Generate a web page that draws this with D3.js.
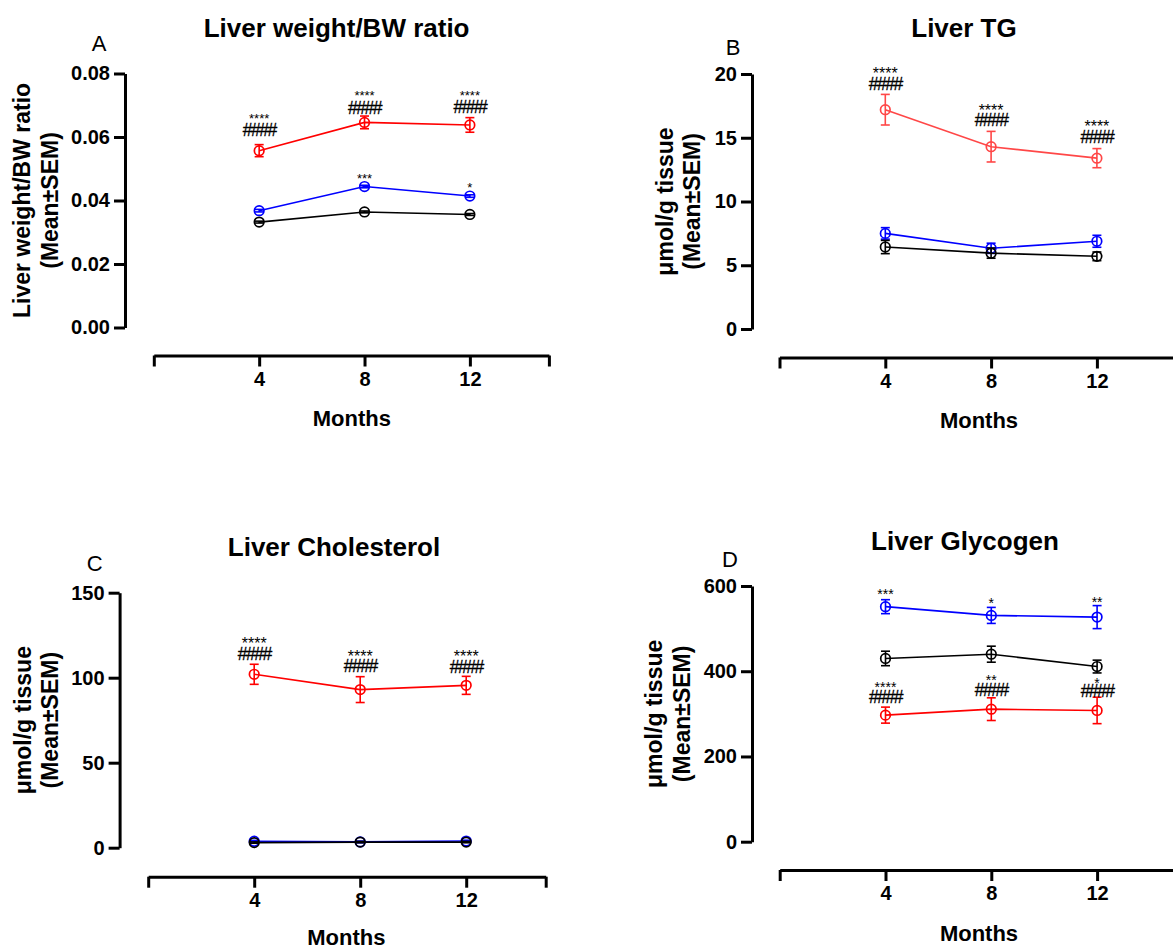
<!DOCTYPE html>
<html><head><meta charset="utf-8">
<script src="https://cdn.jsdelivr.net/npm/d3@7"></script>
<style>
body{margin:0;background:#fff}
svg{display:block}
text{font-family:"Liberation Sans",Arial,sans-serif}
</style>
</head><body>
<svg id="c" width="1173" height="949"></svg>
<script>
// ---------- shared ----------
const months = [4, 8, 12];
const xTickLabels = ["4", "8", "12"];
const xLabel = "Months";
const seriesNames = ["HFD", "Exercise", "Control"];

// ---------- Panel A ----------
const aTitle = "Liver weight/BW ratio";
const aYLabel = ["Liver weight/BW ratio", "(Mean±SEM)"];
const aYTicks = [0, 0.02, 0.04, 0.06, 0.08];
const aRedMean = [0.0557, 0.0646, 0.0638];
const aRedSem = [0.0019, 0.0020, 0.0023];
const aBlueMean = [0.0368, 0.0444, 0.0414];
const aBlueSem = [0.0004, 0.0004, 0.0004];
const aBlackMean = [0.0332, 0.0364, 0.0356];
const aBlackSem = [0.0003, 0.0003, 0.0003];
const aAnnMonth = [4, 4, 8, 8, 12, 12, 8, 12];
const aAnnY = [0.0668, 0.0624, 0.0740, 0.0693, 0.0740, 0.0696, 0.0479, 0.0450];
const aAnnText = ["****", "####", "****", "####", "****", "####", "***", "*"];

// ---------- Panel B ----------
const bTitle = "Liver TG";
const bYLabel = ["μmol/g tissue", "(Mean±SEM)"];
const bYTicks = [0, 5, 10, 15, 20];
const bRedMean = [17.2, 14.3, 13.4];
const bRedSem = [1.2, 1.2, 0.75];
const bBlueMean = [7.5, 6.33, 6.88];
const bBlueSem = [0.45, 0.4, 0.47];
const bBlackMean = [6.43, 5.95, 5.7];
const bBlackSem = [0.52, 0.4, 0.34];
const bAnnMonth = [4, 4, 8, 8, 12, 12];
const bAnnY = [20.37, 19.27, 17.44, 16.39, 16.18, 15.08];
const bAnnText = ["****", "####", "****", "####", "****", "####"];

// ---------- Panel C ----------
const cTitle = "Liver Cholesterol";
const cYLabel = ["μmol/g tissue", "(Mean±SEM)"];
const cYTicks = [0, 50, 100, 150];
const cRedMean = [102, 93, 95.5];
const cRedSem = [5.9, 7.6, 5.3];
const cBlueMean = [3.8, 3.4, 3.9];
const cBlueSem = [0.5, 0.5, 0.5];
const cBlackMean = [3.0, 3.3, 3.3];
const cBlackSem = [0.4, 0.4, 0.4];
const cAnnMonth = [4, 4, 8, 8, 12, 12];
const cAnnY = [122.2, 113.9, 114.7, 106.9, 114.7, 106.5];
const cAnnText = ["****", "####", "****", "####", "****", "####"];

// ---------- Panel D ----------
const dTitle = "Liver Glycogen";
const dYLabel = ["μmol/g tissue", "(Mean±SEM)"];
const dYTicks = [0, 200, 400, 600];
const dRedMean = [297, 311, 308];
const dRedSem = [18.8, 26.6, 31];
const dBlueMean = [551.5, 531, 527];
const dBlueSem = [16.4, 18.8, 27];
const dBlackMean = [430, 440, 411];
const dBlackSem = [17, 18.8, 15];
const dAnnMonth = [4, 8, 12, 4, 4, 8, 8, 12, 12];
const dAnnY = [589, 567, 569.5, 370, 340, 387, 356, 379, 353.6];
const dAnnText = ["***", "*", "**", "****", "####", "**", "####", "*", "####"];

// ---------- layout ----------
const panels = [
  {letter:"A", title:aTitle, ylab:aYLabel, ticks:aYTicks, fmt:d3.format(".2f"), yMax:0.08,
   red:[aRedMean,aRedSem], blue:[aBlueMean,aBlueSem], black:[aBlackMean,aBlackSem],
   ann:[aAnnMonth,aAnnY,aAnnText], redColor:"#ff0000", starSize:13,
   yAxisX:125, yTop:73.5, yBot:327.5, xAxisY:355.5, x0:153.8, ppm:26.34,
   letterPos:[99,43], titlePos:[336.6,28], ylabX:[22,50], monthsPos:[351.8,418]},
  {letter:"B", title:bTitle, ylab:bYLabel, ticks:bYTicks, fmt:d3.format("d"), yMax:20,
   red:[bRedMean,bRedSem], blue:[bBlueMean,bBlueSem], black:[bBlackMean,bBlackSem],
   ann:[bAnnMonth,bAnnY,bAnnText], redColor:"#ff4747", starSize:16,
   yAxisX:752, yTop:74, yBot:329, xAxisY:357.5, x0:779.5, ppm:26.45,
   letterPos:[733,47], titlePos:[964,28], ylabX:[665,692], monthsPos:[979,420]},
  {letter:"C", title:cTitle, ylab:cYLabel, ticks:cYTicks, fmt:d3.format("d"), yMax:150,
   red:[cRedMean,cRedSem], blue:[cBlueMean,cBlueSem], black:[cBlackMean,cBlackSem],
   ann:[cAnnMonth,cAnnY,cAnnText], redColor:"#ff0000", starSize:16,
   yAxisX:119.6, yTop:592.7, yBot:847.7, xAxisY:876.7, x0:148.2, ppm:26.5,
   letterPos:[94.6,563], titlePos:[334,546.7], ylabX:[23.2,50], monthsPos:[346.4,937]},
  {letter:"D", title:dTitle, ylab:dYLabel, ticks:dYTicks, fmt:d3.format("d"), yMax:600,
   red:[dRedMean,dRedSem], blue:[dBlueMean,dBlueSem], black:[dBlackMean,dBlackSem],
   ann:[dAnnMonth,dAnnY,dAnnText], redColor:"#ff0000", starSize:14,
   yAxisX:752, yTop:586, yBot:841.7, xAxisY:870, x0:779.7, ppm:26.45,
   letterPos:[730,559.3], titlePos:[965,540.7], ylabX:[653.8,682], monthsPos:[979,933]}
];

const svg = d3.select("#c");
const FONT = '"Liberation Sans",Arial,sans-serif';

panels.forEach(p => {
  const g = svg.append("g");
  const x = d3.scaleLinear().domain([0, 15]).range([p.x0, p.x0 + 15 * p.ppm]);
  const y = d3.scaleLinear().domain([0, p.yMax]).range([p.yBot, p.yTop]);

  // y axis
  const yAx = g.append("g").attr("transform", `translate(${p.yAxisX},0)`)
    .call(d3.axisLeft(y).tickValues(p.ticks).tickFormat(p.fmt).tickSize(11).tickPadding(4).tickSizeOuter(0));
  yAx.select(".domain").attr("stroke", "#000").attr("stroke-width", 3);
  yAx.selectAll(".tick line").attr("stroke", "#000").attr("stroke-width", 3);
  yAx.selectAll(".tick text").attr("fill", "#000").attr("font-size", 20).attr("font-weight", "bold")
    .attr("font-family", FONT);

  // x axis (detached)
  const xAx = g.append("g").attr("transform", `translate(0,${p.xAxisY})`)
    .call(d3.axisBottom(x).tickValues([0, 4, 8, 12, 15])
      .tickFormat(d => { const i = months.indexOf(d); return i >= 0 ? xTickLabels[i] : ""; })
      .tickSize(11).tickPadding(5).tickSizeOuter(0));
  xAx.select(".domain").attr("stroke", "#000").attr("stroke-width", 3);
  xAx.selectAll(".tick line").attr("stroke", "#000").attr("stroke-width", 3);
  xAx.selectAll(".tick text").attr("fill", "#000").attr("font-size", 20).attr("font-weight", "bold")
    .attr("font-family", FONT);

  // labels
  g.append("text").attr("x", p.letterPos[0]).attr("y", p.letterPos[1]).attr("text-anchor", "middle")
    .attr("dominant-baseline", "central").attr("font-size", 22).text(p.letter);
  g.append("text").attr("x", p.titlePos[0]).attr("y", p.titlePos[1]).attr("text-anchor", "middle")
    .attr("dominant-baseline", "central").attr("font-size", 26).attr("font-weight", "bold").text(p.title);
  g.append("text").attr("x", p.monthsPos[0]).attr("y", p.monthsPos[1]).attr("text-anchor", "middle")
    .attr("dominant-baseline", "central").attr("font-size", 22).attr("font-weight", "bold").text(xLabel);
  const yc = (p.yTop + p.yBot) / 2;
  p.ylab.forEach((t, i) => {
    g.append("text").attr("transform", `translate(${p.ylabX[i]},${yc}) rotate(-90)`)
      .attr("text-anchor", "middle").attr("dominant-baseline", "central")
      .attr("font-size", 23).attr("font-weight", "bold").text(t);
  });

  // series
  const series = [
    {mean: p.red[0], sem: p.red[1], color: p.redColor},
    {mean: p.blue[0], sem: p.blue[1], color: "#0000ff"},
    {mean: p.black[0], sem: p.black[1], color: "#000000"}
  ];
  series.forEach(s => {
    const pts = months.map((m, i) => ({m, v: s.mean[i], e: s.sem[i]}));
    const sg = g.append("g");
    sg.append("path").datum(pts)
      .attr("d", d3.line().x(d => x(d.m)).y(d => y(d.v)))
      .attr("fill", "none").attr("stroke", s.color).attr("stroke-width", 1.6);
    pts.forEach(d => {
      const cx = x(d.m), y1 = y(d.v + d.e), y2 = y(d.v - d.e);
      sg.append("line").attr("x1", cx).attr("x2", cx).attr("y1", y1).attr("y2", y2)
        .attr("stroke", s.color).attr("stroke-width", 1.6);
      [y1, y2].forEach(yy => sg.append("line").attr("x1", cx - 4.5).attr("x2", cx + 4.5)
        .attr("y1", yy).attr("y2", yy).attr("stroke", s.color).attr("stroke-width", 1.6));
      sg.append("circle").attr("cx", cx).attr("cy", y(d.v)).attr("r", 4.8)
        .attr("fill", "none").attr("stroke", s.color).attr("stroke-width", 1.7);
    });
  });

  // annotations
  const [am, ay, at] = p.ann;
  am.forEach((m, i) => {
    const isHash = at[i].startsWith("#");
    const fs = isHash ? 17.5 : p.starSize;
    g.append("text").attr("x", x(m)).attr("y", y(ay[i]))
      .attr("dy", (isHash ? 0.36 : 0.58) * fs)
      .attr("text-anchor", "middle").attr("font-size", fs)
      .attr("letter-spacing", isHash ? -1.5 : 0)
      .attr("stroke", isHash ? "#000" : "none").attr("stroke-width", isHash ? 0.3 : 0)
      .attr("fill", "#000").text(at[i]);
  });
});
</script>
</body></html>
